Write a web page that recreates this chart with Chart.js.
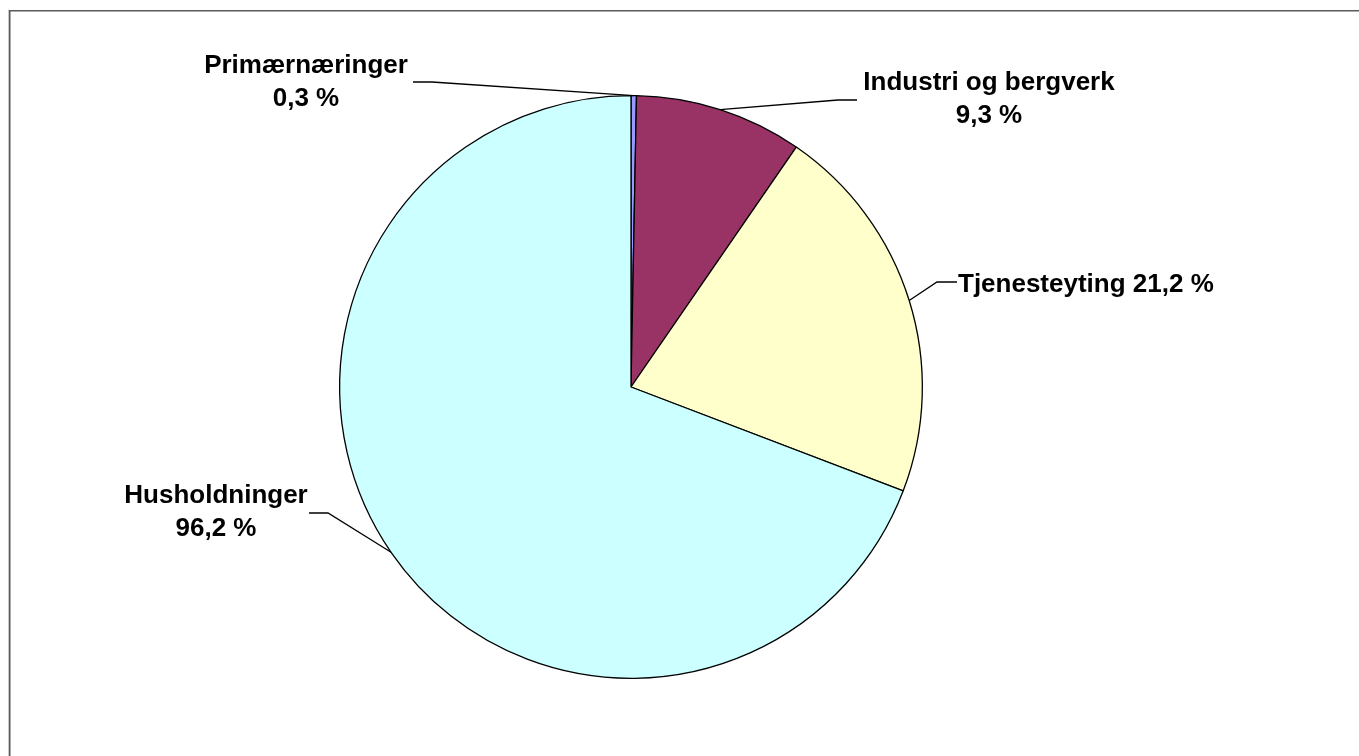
<!DOCTYPE html>
<html>
<head>
<meta charset="utf-8">
<script src="https://cdn.jsdelivr.net/npm/chart.js@4/dist/chart.umd.min.js"></script>
<style>
  html, body { margin: 0; padding: 0; background: #fff; }
  #wrap { width: 1359px; height: 756px; }
</style>
</head>
<body>
<div id="wrap"><canvas id="myChart" width="1359" height="756"></canvas></div>
<script>
// data (share of the pie, in %)
const kategorier = ['Primærnæringer', 'Industri og bergverk', 'Tjenesteyting', 'Husholdninger'];
const andeler = [0.3, 9.3, 21.2, 69.2];
// the printed labels (the original says 96,2 % for Husholdninger)
const etiketter = ['0,3 %', '9,3 %', '21,2 %', '96,2 %'];
const farger = ['#9999FF', '#993366', '#FFFFCC', '#CCFFFF'];

// where each label sits, relative to the pie centre
// lines: text lines, tx/ty: anchor of first baseline, align, start/elbow of leader line
const plassering = [
    { lines: [kategorier[0], etiketter[0]], tx: -325, ty: -314, align: 'center', start: [-218, -305], elbow: [-199, -305] },
    { lines: [kategorier[1], etiketter[1]], tx: 358, ty: -297, align: 'center', start: [226, -287], elbow: [207, -287] },
    { lines: [kategorier[2] + ' ' + etiketter[2]], tx: 327, ty: -95, align: 'left', start: [326, -105], elbow: [306, -105] },
    { lines: [kategorier[3], etiketter[3]], tx: -415, ty: 116, align: 'center', start: [-322, 126], elbow: [-303, 126] }
];

const rammePlugin = {
    id: 'ramme',
    beforeDraw(chart) {
        const ctx = chart.ctx;
        ctx.save();
        ctx.strokeStyle = '#c8c8c8';
        ctx.lineWidth = 1;
        ctx.beginPath();
        ctx.moveTo(8.5, 756);
        ctx.lineTo(8.5, 9.5);
        ctx.stroke();
        ctx.strokeStyle = '#5a5a5a';
        ctx.lineWidth = 1.5;
        ctx.beginPath();
        ctx.moveTo(9.75, 756);
        ctx.lineTo(9.75, 10.75);
        ctx.lineTo(1359, 10.75);
        ctx.stroke();
        ctx.restore();
    }
};

const etikettPlugin = {
    id: 'etiketter',
    afterDatasetsDraw(chart) {
        const ctx = chart.ctx;
        const arcs = chart.getDatasetMeta(0).data;
        ctx.save();
        arcs.forEach((arc, i) => {
            const p = plassering[i];
            const cx = arc.x, cy = arc.y;
            const mid = (arc.startAngle + arc.endAngle) / 2;
            const r = arc.outerRadius;
            const ex = cx + Math.cos(mid) * r;
            const ey = cy + Math.sin(mid) * r;

            ctx.strokeStyle = '#000';
            ctx.lineWidth = 1.3;
            ctx.beginPath();
            ctx.moveTo(cx + p.start[0], cy + p.start[1]);
            ctx.lineTo(cx + p.elbow[0], cy + p.elbow[1]);
            ctx.lineTo(ex, ey);
            ctx.stroke();

            ctx.fillStyle = '#000';
            ctx.font = 'bold 26px "Liberation Sans", Arial, sans-serif';
            ctx.textAlign = p.align;
            ctx.textBaseline = 'alphabetic';
            p.lines.forEach((t, k) => {
                ctx.fillText(t, cx + p.tx, cy + p.ty + k * 33);
            });
        });
        ctx.restore();
    }
};

const ctx = document.getElementById('myChart');
const myChart = new Chart(ctx, {
    type: 'pie',
    data: {
        labels: kategorier,
        datasets: [{
            data: andeler,
            backgroundColor: farger,
            borderColor: '#000',
            borderWidth: 1.3
        }]
    },
    options: {
        responsive: false,
        animation: false,
        layout: { padding: { top: 95, bottom: 77, left: 339, right: 436 } },
        plugins: {
            legend: { display: false },
            tooltip: { enabled: false }
        }
    },
    plugins: [rammePlugin, etikettPlugin]
});
</script>
</body>
</html>
